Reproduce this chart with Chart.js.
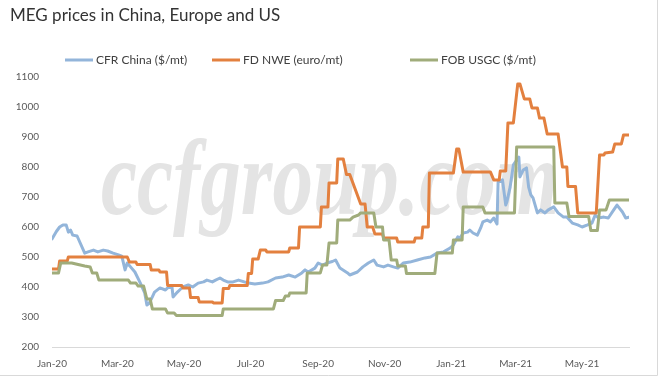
<!DOCTYPE html>
<html>
<head>
<meta charset="utf-8">
<script src="https://cdn.jsdelivr.net/npm/chart.js@4.4.1/dist/chart.umd.min.js"></script>
<style>
  html, body { margin: 0; padding: 0; background: #fff; }
  #wrap { width: 659px; height: 377px; position: relative; }
</style>
</head>
<body>
<div id="wrap"><canvas id="megChart" width="659" height="377"></canvas></div>
<script>
// ── Data ──
const cfrDates = [
  '2020-01-01','2020-01-05','2020-01-08','2020-01-11','2020-01-14','2020-01-16','2020-01-18','2020-01-20','2020-01-24','2020-01-31',
  '2020-02-03','2020-02-08','2020-02-12','2020-02-17','2020-02-21','2020-02-26','2020-03-02','2020-03-05','2020-03-08','2020-03-10',
  '2020-03-13','2020-03-17','2020-03-22','2020-03-26','2020-03-28','2020-03-30','2020-04-02','2020-04-04','2020-04-09','2020-04-14',
  '2020-04-16','2020-04-20','2020-04-21','2020-04-25','2020-04-27','2020-04-30','2020-05-05','2020-05-09','2020-05-14','2020-05-19',
  '2020-05-22','2020-05-27','2020-05-30','2020-06-03','2020-06-06','2020-06-10','2020-06-15','2020-06-20','2020-06-29','2020-07-05',
  '2020-07-12','2020-07-17','2020-07-24','2020-07-30','2020-08-05','2020-08-11','2020-08-17','2020-08-20','2020-08-23','2020-08-29',
  '2020-09-01','2020-09-05','2020-09-09','2020-09-14','2020-09-17','2020-09-21','2020-09-28','2020-09-30','2020-10-07','2020-10-12',
  '2020-10-17','2020-10-22','2020-10-25','2020-10-31','2020-11-04','2020-11-09','2020-11-13','2020-11-18','2020-11-24','2020-12-01',
  '2020-12-08','2020-12-13','2020-12-19','2020-12-25','2020-12-31','2021-01-03','2021-01-07','2021-01-09','2021-01-12','2021-01-16',
  '2021-01-18','2021-01-21','2021-01-25','2021-01-28','2021-01-30','2021-02-03','2021-02-06','2021-02-09','2021-02-12','2021-02-13',
  '2021-02-17','2021-02-20','2021-02-21','2021-02-24','2021-02-27','2021-03-02','2021-03-04','2021-03-05','2021-03-08','2021-03-11',
  '2021-03-13','2021-03-15','2021-03-17','2021-03-21','2021-03-24','2021-03-28','2021-03-31','2021-04-05','2021-04-09','2021-04-14',
  '2021-04-17','2021-04-22','2021-04-27','2021-05-01','2021-05-06','2021-05-10','2021-05-13','2021-05-16','2021-05-21','2021-05-25',
  '2021-05-30','2021-06-02','2021-06-07','2021-06-10','2021-06-13'
];
const cfrValues = [
  560, 585, 600, 607, 607, 583, 590, 573, 570, 513,
  517, 523, 517, 523, 520, 513, 507, 503, 457, 480,
  467, 450, 413, 380, 340, 345, 367, 383, 397, 390,
  397, 400, 367, 383, 390, 400, 407, 400, 413, 417,
  423, 417, 423, 430, 423, 417, 417, 423, 413, 410,
  413, 417, 430, 433, 440, 433, 447, 457, 450, 463,
  480, 473, 480, 485, 490, 463, 447, 440, 450, 467,
  480, 490, 473, 467, 473, 467, 463, 480, 483, 490,
  497, 500, 513, 517, 530, 540, 567, 563, 580, 583,
  590, 580, 573, 597, 617, 623, 617, 630, 610, 750,
  757, 673, 683, 733, 807, 823, 833, 767, 790, 797,
  733, 707, 697, 647, 657, 647, 657, 667, 647, 633,
  633, 613, 607, 600, 607, 613, 640, 630, 633, 630,
  657, 673, 650, 630, 633
];

const nweDates = [
  '2020-01-01','2020-01-07','2020-01-08','2020-01-15','2020-01-16','2020-03-10','2020-03-12','2020-03-18','2020-03-19','2020-03-31',
  '2020-04-01','2020-04-08','2020-04-09','2020-04-15','2020-04-16','2020-04-29','2020-04-30','2020-05-06','2020-05-07','2020-05-14',
  '2020-05-15','2020-05-27','2020-05-28','2020-06-05','2020-06-06','2020-06-11','2020-06-12','2020-06-28','2020-06-29','2020-07-02',
  '2020-07-03','2020-07-08','2020-07-10','2020-07-15','2020-07-16','2020-08-05','2020-08-06','2020-08-14','2020-08-15','2020-09-03',
  '2020-09-04','2020-09-10','2020-09-11','2020-09-18','2020-09-19','2020-09-24','2020-09-27','2020-09-30','2020-10-10','2020-10-14',
  '2020-10-16','2020-10-21','2020-10-23','2020-10-30','2020-10-31','2020-11-12','2020-11-13','2020-11-28','2020-11-29','2020-12-05',
  '2020-12-06','2020-12-11','2020-12-12','2021-01-03','2021-01-06','2021-01-08','2021-01-12','2021-02-06','2021-02-09','2021-02-14',
  '2021-02-15','2021-02-20','2021-02-22','2021-02-27','2021-03-03','2021-03-05','2021-03-09','2021-03-14','2021-03-16','2021-03-21',
  '2021-03-23','2021-03-27','2021-03-30','2021-04-09','2021-04-13','2021-04-17','2021-04-18','2021-04-25','2021-04-27','2021-05-14',
  '2021-05-17','2021-05-21','2021-05-22','2021-05-29','2021-05-31','2021-06-06','2021-06-08','2021-06-13'
];
const nweValues = [
  460, 460, 487, 487, 500, 500, 483, 483, 475, 475,
  457, 457, 450, 450, 405, 405, 397, 397, 365, 365,
  350, 350, 347, 347, 395, 395, 405, 405, 445, 445,
  493, 493, 523, 523, 517, 517, 530, 530, 600, 600,
  667, 667, 747, 747, 827, 827, 775, 775, 677, 677,
  600, 600, 577, 577, 563, 563, 550, 550, 563, 563,
  600, 600, 780, 780, 860, 860, 783, 783, 757, 757,
  787, 787, 947, 947, 1077, 1077, 1027, 1027, 997, 997,
  963, 963, 910, 910, 800, 800, 735, 735, 647, 647,
  840, 840, 847, 850, 877, 877, 907, 907
];

const usgcDates = [
  '2020-01-01','2020-01-07','2020-01-09','2020-01-19','2020-01-25','2020-01-31','2020-02-05','2020-02-07','2020-02-11','2020-02-13',
  '2020-03-11','2020-03-13','2020-03-18','2020-03-20','2020-03-25','2020-03-28','2020-03-31','2020-04-02','2020-04-14','2020-04-16',
  '2020-04-22','2020-04-24','2020-06-05','2020-06-06','2020-07-22','2020-07-24','2020-07-31','2020-08-02','2020-08-05','2020-08-06',
  '2020-08-21','2020-08-22','2020-09-03','2020-09-05','2020-09-09','2020-09-11','2020-09-18','2020-09-19','2020-09-30','2020-10-03',
  '2020-10-08','2020-10-10','2020-10-22','2020-10-24','2020-10-30','2020-10-31','2020-11-05','2020-11-07','2020-11-12','2020-11-13',
  '2020-11-20','2020-11-21','2020-12-17','2020-12-19','2021-01-02','2021-01-03','2021-01-11','2021-01-12','2021-01-30','2021-02-01',
  '2021-02-28','2021-03-02','2021-04-05','2021-04-06','2021-04-17','2021-04-19','2021-05-07','2021-05-09','2021-05-15','2021-05-17',
  '2021-05-23','2021-05-26','2021-06-13'
];
const usgcValues = [
  447, 447, 480, 480, 475, 470, 467, 447, 447, 423,
  423, 413, 413, 403, 403, 360, 360, 327, 327, 313,
  313, 305, 305, 327, 327, 355, 355, 370, 370, 380,
  380, 447, 447, 473, 473, 547, 547, 623, 623, 633,
  640, 647, 647, 600, 600, 557, 557, 490, 490, 470,
  470, 445, 445, 513, 513, 557, 557, 667, 667, 647,
  647, 867, 867, 680, 680, 635, 635, 588, 588, 657,
  657, 690, 690
];

const tickDates = ['2020-01-01', '2020-03-01', '2020-05-01', '2020-07-01', '2020-09-01', '2020-11-01', '2021-01-01', '2021-03-01', '2021-05-01'];
const tickLabels = ['Jan-20', 'Mar-20', 'May-20', 'Jul-20', 'Sep-20', 'Nov-20', 'Jan-21', 'Mar-21', 'May-21'];

const seriesNames = ['CFR China ($/mt)', 'FD NWE (euro/mt)', 'FOB USGC ($/mt)'];
const seriesColors = ['#93b5da', '#e3803f', '#a0ac7b'];

const chartTitle = 'MEG prices in China, Europe and US';
const watermark = 'ccfgroup.com';

// ── helpers ──
const day0 = Date.UTC(2020, 0, 1);
function dayOf(s) {
  const [y, m, d] = s.split('-').map(Number);
  return (Date.UTC(y, m - 1, d) - day0) / 86400000;
}
function toPoints(dates, values) {
  return dates.map((d, i) => ({ x: dayOf(d), y: values[i] }));
}

const labelFont = '"Lato", "Open Sans", sans-serif';
const legendStarts = [65, 212, 410];   // x of each legend line sample

// Title, legend, watermark and frame drawn by hand (Excel-like placement)
const decor = {
  id: 'decor',
  beforeDatasetsDraw(chart) {
    const ctx = chart.ctx;
    ctx.save();
    ctx.font = 'italic bold 108px "Liberation Serif", serif';
    ctx.fillStyle = '#e4e4e4';
    ctx.textBaseline = 'alphabetic';
    const w = ctx.measureText(watermark).width;
    ctx.translate(101, 214);
    ctx.scale(458 / w, 1);
    ctx.fillText(watermark, 0, 0);
    ctx.restore();
  },
  afterDraw(chart) {
    const ctx = chart.ctx;
    ctx.save();
    // title
    ctx.font = '17px ' + labelFont;
    ctx.fillStyle = '#333333';
    ctx.textBaseline = 'alphabetic';
    ctx.textAlign = 'left';
    ctx.fillText(chartTitle, 10, 21);

    // legend
    ctx.font = '12px ' + labelFont;
    ctx.textBaseline = 'middle';
    seriesNames.forEach((name, i) => {
      const x = legendStarts[i];
      ctx.strokeStyle = seriesColors[i];
      ctx.lineWidth = 3;
      ctx.beginPath();
      ctx.moveTo(x, 60);
      ctx.lineTo(x + 28, 60);
      ctx.stroke();
      ctx.fillStyle = '#404040';
      ctx.fillText(name, x + 31, 60);
    });

    // light frame on right / bottom edges
    ctx.strokeStyle = '#d9d9d9';
    ctx.lineWidth = 1;
    ctx.beginPath();
    ctx.moveTo(657.5, 0);
    ctx.lineTo(657.5, 375.5);
    ctx.lineTo(0, 375.5);
    ctx.stroke();
    ctx.restore();
  }
};

const lineStyle = {
  borderWidth: 3,
  pointRadius: 0,
  tension: 0,
  fill: false,
  borderJoinStyle: 'round',
  borderCapStyle: 'round'
};

new Chart(document.getElementById('megChart').getContext('2d'), {
  type: 'line',
  data: {
    datasets: [
      { label: seriesNames[0], data: toPoints(cfrDates, cfrValues), borderColor: seriesColors[0], order: 2, ...lineStyle },
      { label: seriesNames[1], data: toPoints(nweDates, nweValues), borderColor: seriesColors[1], order: 1, ...lineStyle },
      { label: seriesNames[2], data: toPoints(usgcDates, usgcValues), borderColor: seriesColors[2], order: 0, ...lineStyle }
    ]
  },
  options: {
    responsive: false,
    animation: false,
    layout: { padding: { left: 0, right: 30, top: 77, bottom: 0 } },
    plugins: { legend: { display: false }, title: { display: false }, tooltip: { enabled: false } },
    scales: {
      x: {
        type: 'linear',
        min: 0,
        max: dayOf('2021-06-13'),
        grid: { display: false, drawTicks: false },
        border: { display: true, color: '#d9d9d9', width: 1 },
        afterBuildTicks: scale => { scale.ticks = tickDates.map(d => ({ value: dayOf(d) })); },
        afterFit: scale => { scale.height = 30; },
        ticks: {
          autoSkip: false,
          maxRotation: 0,
          padding: 11,
          color: '#595959',
          font: { family: labelFont, size: 10 },
          callback: (v, i) => tickLabels[i]
        }
      },
      y: {
        min: 200,
        max: 1100,
        grid: { display: false, drawTicks: false },
        border: { display: false },
        afterFit: scale => { scale.width = 52; },
        ticks: {
          stepSize: 100,
          padding: 13,
          color: '#595959',
          font: { family: labelFont, size: 10 },
          callback: v => String(v)
        }
      }
    }
  },
  plugins: [decor]
});
</script>
</body>
</html>
